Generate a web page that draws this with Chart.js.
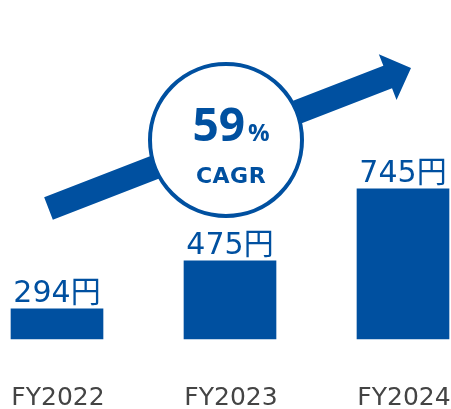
<!DOCTYPE html>
<html>
<head>
<meta charset="utf-8">
<script src="https://cdn.jsdelivr.net/npm/chart.js@4/dist/chart.umd.min.js"></script>
<style>
  html, body { margin: 0; padding: 0; background: #fff; }
  #wrap { width: 451px; height: 409px; position: relative; }
</style>
</head>
<body>
<div id="wrap"><canvas id="c"></canvas></div>
<script>
const years = ['FY2022', 'FY2023', 'FY2024'];
const dividends = [294, 475, 745];
const cagrPct = 59;
const cagrLabel = 'CAGR';
const unit = '円';

const Y_MIN = 181;
const Y_MAX = 1455;

const BLUE = '#0050a0';
const GREY = '#444444';

// arrow + circle badge behind the bars, value labels and year labels on top
const decor = {
  id: 'decor',
  beforeDatasetsDraw(chart) {
    const ctx = chart.ctx;
    const x0 = 48.5, y0 = 208.5, x1 = 411, y1 = 68;
    const ang = Math.atan2(y1 - y0, x1 - x0);
    const len = Math.hypot(x1 - x0, y1 - y0);
    const w = 24, headLen = 25, headW = 49;
    ctx.save();
    ctx.translate(x0, y0);
    ctx.rotate(ang);
    ctx.fillStyle = BLUE;
    ctx.beginPath();
    ctx.moveTo(0, -w / 2);
    ctx.lineTo(len - headLen, -w / 2);
    ctx.lineTo(len - headLen, -headW / 2);
    ctx.lineTo(len, 0);
    ctx.lineTo(len - headLen, headW / 2);
    ctx.lineTo(len - headLen, w / 2);
    ctx.lineTo(0, w / 2);
    ctx.closePath();
    ctx.fill();
    ctx.restore();

    const cx = 226, cy = 140, r = 76;
    ctx.save();
    ctx.beginPath();
    ctx.arc(cx, cy, r, 0, Math.PI * 2);
    ctx.fillStyle = '#fff';
    ctx.fill();
    ctx.lineWidth = 4;
    ctx.strokeStyle = BLUE;
    ctx.stroke();

    ctx.fillStyle = BLUE;
    ctx.textBaseline = 'alphabetic';
    const num = String(cagrPct);
    ctx.font = 'bold 46px "Open Sans"';
    const nw = ctx.measureText(num).width;
    ctx.font = 'bold 24px "Open Sans"';
    const pw = ctx.measureText('%').width;
    const sx = cx + 5 - (nw + 3 + pw) / 2;
    ctx.textAlign = 'left';
    ctx.font = 'bold 46px "Open Sans"';
    ctx.fillText(num, sx, 141);
    ctx.font = 'bold 24px "Open Sans"';
    ctx.fillText('%', sx + nw + 3, 141);
    ctx.textAlign = 'center';
    ctx.font = 'bold 22px "DejaVu Sans"';
    ctx.letterSpacing = '0.5px';
    ctx.fillText(cagrLabel, cx + 5, 183);
    ctx.restore();
  },
  afterDatasetsDraw(chart) {
    const ctx = chart.ctx;
    const meta = chart.getDatasetMeta(0);
    const xs = chart.scales.x;
    ctx.save();
    ctx.textAlign = 'center';
    ctx.textBaseline = 'alphabetic';
    ctx.fillStyle = BLUE;
    ctx.font = '30px "DejaVu Sans", "Noto Sans CJK JP"';
    meta.data.forEach((bar, i) => {
      ctx.fillText(dividends[i] + unit, bar.x, bar.y - 7);
    });
    ctx.fillStyle = GREY;
    ctx.font = '25px "DejaVu Sans"';
    years.forEach((y, i) => {
      ctx.fillText(y, xs.getPixelForValue(i) + 1, chart.chartArea.bottom + 66);
    });
    ctx.restore();
  }
};

new Chart(document.getElementById('c'), {
  type: 'bar',
  data: {
    labels: years,
    datasets: [{
      data: dividends,
      base: Y_MIN,
      backgroundColor: BLUE,
      barThickness: 92,
      clip: false
    }]
  },
  options: {
    responsive: true,
    maintainAspectRatio: false,
    animation: false,
    layout: { padding: { left: 57, right: 48, top: 0, bottom: 70 } },
    plugins: { legend: { display: false }, tooltip: { enabled: false } },
    scales: {
      x: { display: false, offset: false },
      y: { display: false, min: Y_MIN, max: Y_MAX }
    }
  },
  plugins: [decor]
});
</script>
</body>
</html>
